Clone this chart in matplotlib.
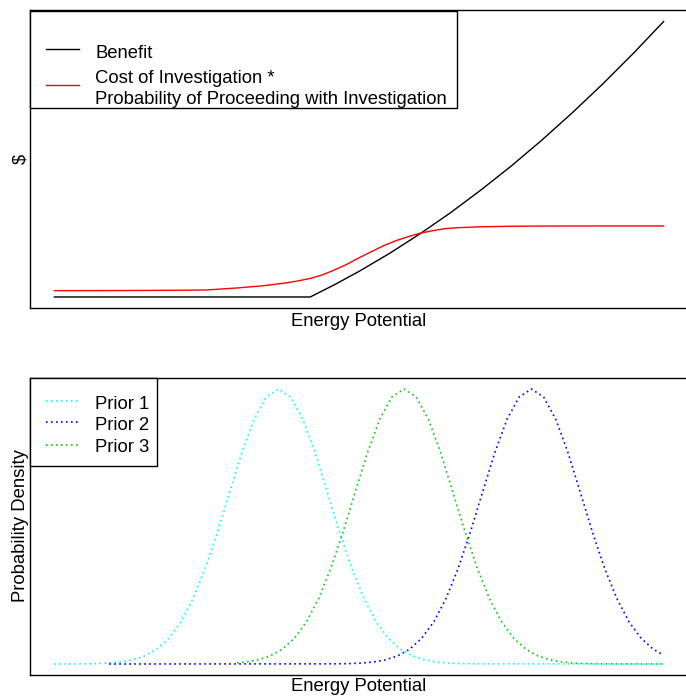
import matplotlib
matplotlib.use("Agg")
import matplotlib.pyplot as plt
from matplotlib.lines import Line2D
from matplotlib.patches import Rectangle

plt.rcParams['font.family'] = ['Liberation Sans', 'DejaVu Sans']

# ---------------- data ----------------
# Top panel
benefit_x = [0, 42, 46, 50, 55, 60, 65, 70, 75, 80, 85, 90, 95, 100]
benefit_y = [0, 0, 12.3, 25.5, 43.4, 62.9, 83.9, 106.6, 130.6, 156.3, 183.6, 212.3, 242.7, 274.6]
cost_x = [0, 10, 20, 25, 30, 34, 38, 40, 42, 44, 46, 48, 50, 52, 54, 56, 58, 60, 62, 64, 66, 70, 75, 80, 90, 100]
cost_y = [6.3, 6.4, 6.7, 7.0, 9.0, 11.0, 14.0, 16.0, 18.5, 22.0, 27.0, 32.5, 39.0, 45.0, 51.0, 56.0, 60.0, 63.5,
          66.0, 68.0, 69.0, 70.0, 70.5, 70.7, 70.8, 70.8]
top_labels = ["Benefit", "Cost of Investigation *\nProbability of Proceeding with Investigation"]

# Bottom panel (relative density)
prior1_x = [0, 4.8, 6.8, 8.8, 10.8, 12.8, 14.8, 16.8, 18.8, 20.8, 22.8, 24.8, 26.8, 28.8, 30.8, 32.8, 34.8,
            36.8, 38.8, 40.8, 42.8, 44.8, 46.8, 48.8, 50.8, 52.8, 54.8, 56.8, 58.8, 60.8, 62.8, 64.8, 66.8,
            68.8, 100]
prior1_y = [0, 0.0006, 0.0014, 0.0032, 0.0071, 0.0148, 0.0291, 0.0537, 0.0937, 0.154, 0.239, 0.349, 0.481,
            0.626, 0.769, 0.890, 0.971, 1.0, 0.971, 0.890, 0.769, 0.626, 0.481, 0.349, 0.239, 0.154, 0.0937,
            0.0537, 0.0291, 0.0148, 0.0071, 0.0032, 0.0014, 0.0006, 0]
prior2_x = [9, 46.3, 48.3, 50.3, 52.3, 54.3, 56.3, 58.3, 60.3, 62.3, 64.3, 66.3, 68.3, 70.3, 72.3, 74.3, 76.3,
            78.3, 80.3, 82.3, 84.3, 86.3, 88.3, 90.3, 92.3, 94.3, 96.3, 98.3, 100]
prior2_y = [0, 0.0006, 0.0014, 0.0032, 0.0071, 0.0148, 0.0291, 0.0537, 0.0937, 0.154, 0.239, 0.349, 0.481,
            0.626, 0.769, 0.890, 0.971, 1.0, 0.971, 0.890, 0.769, 0.626, 0.481, 0.349, 0.239, 0.154, 0.0937,
            0.0537, 0.032]
prior3_x = [30, 31.4, 33.4, 35.4, 37.4, 39.4, 41.4, 43.4, 45.4, 47.4, 49.4, 51.4, 53.4, 55.4, 57.4, 59.4,
            61.4, 63.4, 65.4, 67.4, 69.4, 71.4, 73.4, 75.4, 77.4, 79.4, 81.4, 83.4, 85.4, 87.4, 89.4, 100]
prior3_y = [0.004, 0.0071, 0.0148, 0.0291, 0.0537, 0.0937, 0.154, 0.239, 0.349, 0.481, 0.626, 0.769, 0.890,
            0.971, 1.0, 0.971, 0.890, 0.769, 0.626, 0.481, 0.349, 0.239, 0.154, 0.0937, 0.0537, 0.0291,
            0.0148, 0.0071, 0.0032, 0.0014, 0.0006, 0]
bottom_labels = ["Prior 1", "Prior 2", "Prior 3"]

# ---------------- figure ----------------
W, H = 686, 696
fig = plt.figure(figsize=(W / 100, H / 100), dpi=100)


def rect(l, t, r, b):
    return [l / W, 1 - b / H, (r - l) / W, (b - t) / H]


def fx(x):
    return x / W


def fy(y):
    return 1 - y / H


FS = 13.3
LW_FRAME = 1.0

ax1 = fig.add_axes(rect(30, 10.5, 688, 308))
ax2 = fig.add_axes(rect(30, 378, 688, 675))

for ax in (ax1, ax2):
    ax.set_xticks([])
    ax.set_yticks([])
    for s in ax.spines.values():
        s.set_linewidth(LW_FRAME)
        s.set_color('black')
    ax.set_xlim(-4, 104)

# top
ax1.plot(benefit_x, benefit_y, color='black', lw=1.0, zorder=3)
ax1.plot(cost_x, cost_y, color='#FF0000', lw=1.0, zorder=3)
ymax = max(benefit_y)
ax1.set_ylim(-0.04 * ymax, 1.04 * ymax)

# bottom
dot = (1, 2)
ax2.plot(prior1_x, prior1_y, color='#00FFFF', lw=1.2, dashes=dot)
ax2.plot(prior2_x, prior2_y, color='#0000FF', lw=1.2, dashes=dot)
ax2.plot(prior3_x, prior3_y, color='#00CD00', lw=1.2, dashes=dot)
ax2.set_ylim(-0.04, 1.04)

# ---- manual legends (R style) ----
fig.patches.append(Rectangle((fx(30), fy(108)), fx(457) - fx(30), fy(10.5) - fy(108),
                             transform=fig.transFigure, fill=True, facecolor='white',
                             edgecolor='black', lw=LW_FRAME, zorder=5))
fig.lines.append(Line2D([fx(46), fx(79)], [fy(49), fy(49)], transform=fig.transFigure,
                        color='black', lw=1.0, zorder=6))
fig.lines.append(Line2D([fx(46), fx(79)], [fy(85), fy(85)], transform=fig.transFigure,
                        color='#FF0000', lw=1.0, zorder=6))
fig.text(fx(95), fy(57.5), top_labels[0], fontsize=FS, va='baseline', ha='left', zorder=7)
l1, l2 = top_labels[1].split("\n")
fig.text(fx(95), fy(83), l1, fontsize=FS, va='baseline', ha='left', zorder=7)
fig.text(fx(95), fy(104), l2, fontsize=FS, va='baseline', ha='left', zorder=7)

fig.patches.append(Rectangle((fx(30), fy(466)), fx(157) - fx(30), fy(378) - fy(466),
                             transform=fig.transFigure, fill=True, facecolor='white',
                             edgecolor='black', lw=LW_FRAME, zorder=5))
for yl, yt, lab, col in zip([401, 422, 445], [409, 430, 452], bottom_labels,
                            ['#00FFFF', '#0000FF', '#00CD00']):
    fig.lines.append(Line2D([fx(46), fx(79)], [fy(yl), fy(yl)], transform=fig.transFigure,
                            color=col, lw=1.2, dashes=dot, zorder=6))
    fig.text(fx(95), fy(yt), lab, fontsize=FS, va='baseline', ha='left', zorder=7)

# axis labels
fig.text(fx(359), fy(326), "Energy Potential", fontsize=FS, ha='center', va='baseline')
fig.text(fx(359), fy(691), "Energy Potential", fontsize=FS, ha='center', va='baseline')
fig.text(fx(25), fy(159), r"\$", fontsize=FS, rotation=90, rotation_mode='anchor',
         ha='center', va='baseline')
fig.text(fx(25), fy(526), "Probability Density", fontsize=FS, rotation=90, rotation_mode='anchor',
         ha='center', va='baseline')

fig.savefig("out.png", dpi=100, facecolor='white')
